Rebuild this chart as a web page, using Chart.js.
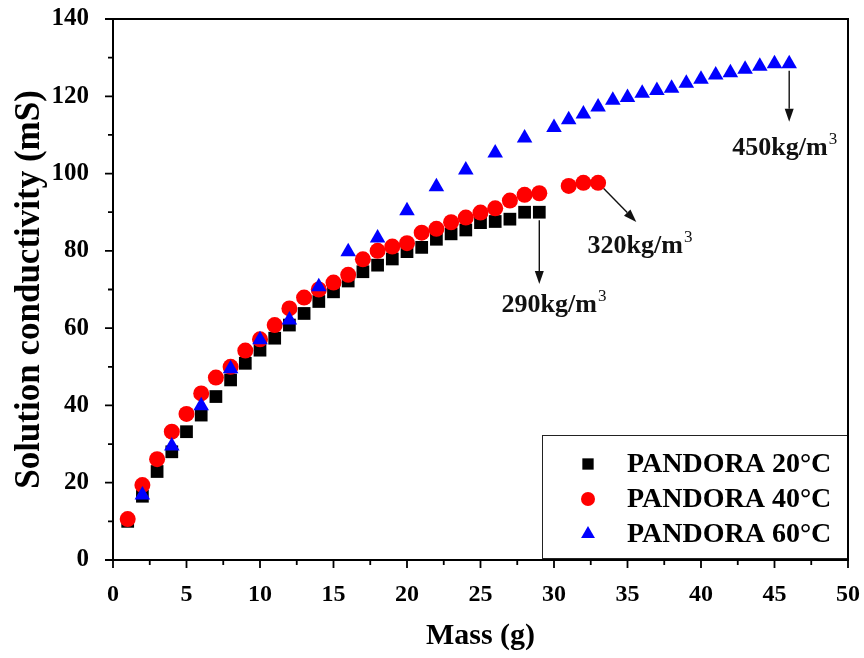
<!DOCTYPE html>
<html>
<head>
<meta charset="utf-8">
<title>Solution conductivity vs mass</title>
<script src="https://cdn.jsdelivr.net/npm/chart.js@4.4.1/dist/chart.umd.min.js"></script>
<style>
  html, body { margin: 0; padding: 0; background: #fff; }
  #wrap { width: 864px; height: 658px; }
</style>
</head>
<body>
<div id="wrap"><canvas id="chart" width="864" height="658"></canvas></div>
<script>
// measured conductivity (mS) against added mass (g)
const mass20 = [1, 2, 3, 4, 5, 6, 7, 8, 9, 10, 11, 12, 13, 14, 15, 16, 17, 18, 19, 20, 21, 22, 23, 24, 25, 26, 27, 28, 29];
const cond20 = [10.0, 16.5, 22.9, 28.0, 33.2, 37.5, 42.3, 46.6, 50.9, 54.3, 57.4, 60.8, 63.8, 66.9, 69.4, 72.2, 74.6, 76.3, 77.9, 79.8, 80.9, 83.0, 84.4, 85.4, 87.3, 87.6, 88.2, 90.0, 90.0];

const mass40 = [1, 2, 3, 4, 5, 6, 7, 8, 9, 10, 11, 12, 13, 14, 15, 16, 17, 18, 19, 20, 21, 22, 23, 24, 25, 26, 27, 28, 29, 31, 32, 33];
const cond40 = [10.6, 19.4, 26.1, 33.2, 37.8, 43.1, 47.2, 50.0, 54.2, 57.1, 60.8, 65.1, 67.9, 70.0, 71.8, 73.8, 77.8, 80.0, 81.1, 82.0, 84.7, 85.7, 87.4, 88.6, 89.9, 91.0, 93.0, 94.5, 94.9, 96.8, 97.6, 97.6];

const mass60 = [2, 4, 6, 8, 10, 12, 14, 16, 18, 20, 22, 24, 26, 28, 30, 31, 32, 33, 34, 35, 36, 37, 38, 39, 40, 41, 42, 43, 44, 45, 46];
const cond60 = [16.8, 29.5, 39.9, 49.5, 57.0, 62.1, 70.7, 79.8, 83.3, 90.4, 96.6, 100.9, 105.3, 109.2, 111.9, 113.9, 115.4, 117.2, 119.0, 119.7, 120.8, 121.5, 122.1, 123.4, 124.4, 125.5, 126.1, 127.0, 127.8, 128.4, 128.4];

const seriesNames = ['PANDORA 20°C', 'PANDORA 40°C', 'PANDORA 60°C'];
const xTicks = [0, 5, 10, 15, 20, 25, 30, 35, 40, 45, 50];
const yTicks = [0, 20, 40, 60, 80, 100, 120, 140];

const SERIF = "'Liberation Serif', 'Times New Roman', serif";

function toPoints(xs, ys) {
    return xs.map((x, i) => ({ x: x, y: ys[i] }));
}

// saturation density callouts at the last point of each series
const callouts = [
    { from: [29, 90.0], gap: 8, tip: [29, 71.4], label: '290', at: [30.0, 64.2] },
    { from: [33, 97.6], gap: 8, tip: [35.6, 87.5], label: '320', at: [35.85, 79.5] },
    { from: [46, 128.4], gap: 7, tip: [46, 113.4], label: '450', at: [45.7, 104.8] }
];

// frame and tick marks, drawn by hand so minor ticks can be shorter
const frameTicks = {
    id: 'frameTicks',
    afterDraw(chart) {
        const { ctx, chartArea: a, scales: { x, y } } = chart;
        ctx.save();
        ctx.strokeStyle = '#000';
        ctx.lineWidth = 2;
        ctx.strokeRect(a.left, a.top, a.right - a.left, a.bottom - a.top);
        ctx.lineWidth = 1.8;
        ctx.beginPath();
        for (let v = 0; v <= 50; v += 2.5) {
            const px = x.getPixelForValue(v);
            const len = (v % 5 === 0) ? 8 : 5;
            ctx.moveTo(px, a.bottom);
            ctx.lineTo(px, a.bottom + len);
        }
        for (let v = 0; v <= 140; v += 10) {
            const py = y.getPixelForValue(v);
            const len = (v % 20 === 0) ? 8 : 5;
            ctx.moveTo(a.left, py);
            ctx.lineTo(a.left - len, py);
        }
        ctx.stroke();
        ctx.restore();
    }
};

const arrowNotes = {
    id: 'arrowNotes',
    afterDatasetsDraw(chart) {
        const { ctx, scales: { x, y } } = chart;
        ctx.save();
        ctx.strokeStyle = '#111';
        ctx.fillStyle = '#111';
        ctx.lineWidth = 1.4;
        callouts.forEach(c => {
            const x0 = x.getPixelForValue(c.from[0]);
            const y0 = y.getPixelForValue(c.from[1]);
            const x1 = x.getPixelForValue(c.tip[0]);
            const y1 = y.getPixelForValue(c.tip[1]);
            const ang = Math.atan2(y1 - y0, x1 - x0);
            const sx = x0 + Math.cos(ang) * c.gap;
            const sy = y0 + Math.sin(ang) * c.gap;
            const head = 13, half = 4.5;
            const bx = x1 - Math.cos(ang) * head;
            const by = y1 - Math.sin(ang) * head;
            ctx.beginPath();
            ctx.moveTo(sx, sy);
            ctx.lineTo(bx, by);
            ctx.stroke();
            ctx.beginPath();
            ctx.moveTo(x1, y1);
            ctx.lineTo(bx + Math.sin(ang) * half, by - Math.cos(ang) * half);
            ctx.lineTo(bx - Math.sin(ang) * half, by + Math.cos(ang) * half);
            ctx.closePath();
            ctx.fill();

            // "NNNkg/m" with a small superscript 3
            const main = c.label + 'kg/m';
            ctx.font = 'bold 26px ' + SERIF;
            const w1 = ctx.measureText(main).width;
            ctx.font = '17px ' + SERIF;
            const w2 = ctx.measureText('3').width;
            const cx = x.getPixelForValue(c.at[0]);
            const base = y.getPixelForValue(c.at[1]);
            const left = cx - (w1 + w2 + 1) / 2;
            ctx.textAlign = 'left';
            ctx.textBaseline = 'alphabetic';
            ctx.font = 'bold 26px ' + SERIF;
            ctx.fillText(main, left, base);
            ctx.font = '17px ' + SERIF;
            ctx.fillText('3', left + w1 + 1, base - 11);
        });
        ctx.restore();
    }
};

const legendBox = {
    id: 'legendBox',
    afterDatasetsDraw(chart) {
        const { ctx, chartArea: a } = chart;
        const w = 306, h = 123;
        const left = a.right - w, top = a.bottom - h - 2;
        ctx.save();
        ctx.fillStyle = '#fff';
        ctx.fillRect(left, top, w, h);
        ctx.strokeStyle = '#222';
        ctx.lineWidth = 1;
        ctx.strokeRect(left + 0.5, top + 0.5, w, h);
        chart.data.datasets.forEach((ds, i) => {
            const cy = top + 29 + i * 35;
            ctx.fillStyle = ds.backgroundColor;
            Chart.helpers.drawPoint(ctx, { pointStyle: ds.pointStyle, radius: ds.pointRadius - 1, borderWidth: 0 }, left + 46, cy);
            ctx.fillStyle = '#000';
            ctx.font = 'bold 28px ' + SERIF;
            ctx.textAlign = 'left';
            ctx.textBaseline = 'middle';
            ctx.fillText(ds.label, left + 85, cy + 1);
        });
        ctx.restore();
    }
};

const ctx = document.getElementById('chart').getContext('2d');
new Chart(ctx, {
    type: 'scatter',
    data: {
        datasets: [
            {
                label: seriesNames[0],
                data: toPoints(mass20, cond20),
                pointStyle: 'rect',
                pointRadius: 9,
                backgroundColor: '#000000',
                borderWidth: 0,
                order: 3
            },
            {
                label: seriesNames[1],
                data: toPoints(mass40, cond40),
                pointStyle: 'circle',
                pointRadius: 8,
                backgroundColor: '#ff0000',
                borderWidth: 0,
                order: 2
            },
            {
                label: seriesNames[2],
                data: toPoints(mass60, cond60),
                pointStyle: 'triangle',
                pointRadius: 9,
                backgroundColor: '#0000ff',
                borderWidth: 0,
                order: 1
            }
        ]
    },
    options: {
        responsive: false,
        animation: false,
        devicePixelRatio: 1,
        layout: { padding: { top: 19, right: 16, left: 0, bottom: 0 } },
        plugins: {
            legend: { display: false },
            tooltip: { enabled: false }
        },
        scales: {
            x: {
                type: 'linear',
                min: 0,
                max: 50,
                // fixed height; label overhang is covered by layout padding
                afterFit: s => { s.height = 98; s.paddingLeft = 0; s.paddingRight = 0; },
                afterBuildTicks: s => { s.ticks = xTicks.map(v => ({ value: v })); },
                grid: { display: false },
                border: { display: false },
                ticks: {
                    padding: 12,
                    color: '#000',
                    maxRotation: 0,
                    font: { family: SERIF, size: 24, weight: 'bold' }
                },
                title: {
                    display: true,
                    text: 'Mass (g)',
                    color: '#000',
                    padding: { top: 0, bottom: 4 },
                    font: { family: SERIF, size: 30, weight: 'bold' }
                }
            },
            y: {
                type: 'linear',
                min: 0,
                max: 140,
                afterFit: s => { s.width = 113; s.paddingTop = 0; s.paddingBottom = 0; },
                afterBuildTicks: s => { s.ticks = yTicks.map(v => ({ value: v })); },
                grid: { display: false },
                border: { display: false },
                ticks: {
                    padding: 16,
                    color: '#000',
                    font: { family: SERIF, size: 25, weight: 'bold' }
                },
                title: {
                    display: true,
                    text: 'Solution conductivity (mS)',
                    color: '#000',
                    padding: { top: 9, bottom: 0 },
                    font: { family: SERIF, size: 35, weight: 'bold' }
                }
            }
        }
    },
    plugins: [frameTicks, arrowNotes, legendBox]
});
</script>
</body>
</html>
